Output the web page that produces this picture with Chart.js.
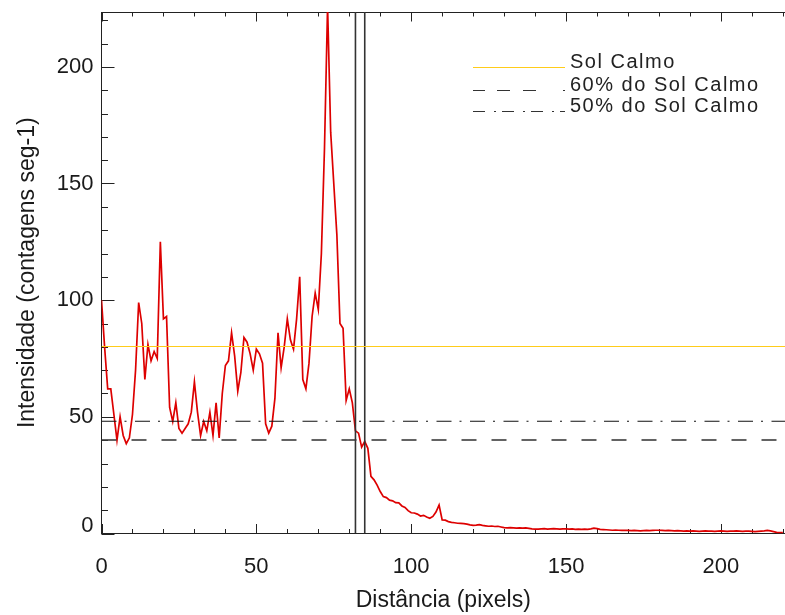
<!DOCTYPE html>
<html><head><meta charset="utf-8">
<script src="https://cdn.jsdelivr.net/npm/chart.js@4"></script>
<style>html,body{margin:0;padding:0;background:#fff;}canvas{display:block;}</style>
</head><body>
<canvas id="c" width="785" height="615"></canvas>
<script>
// ---- data ----
const intensidade = [
 100, 80, 62, 62, 51, 40, 50, 42, 38.5, 41,
 51, 70, 99, 90, 66, 81, 74, 78, 75, 125,
 92, 93, 54, 48, 56, 45, 43, 45, 47, 52,
 65, 52, 42, 48, 44, 52, 42, 56, 41, 60,
 72, 74, 86, 76, 61, 69, 84, 82, 77, 70,
 79, 77, 73, 47, 43, 46, 58, 86, 71, 80,
 92, 83, 79, 92, 110, 66, 62, 73, 93, 103,
 96, 120, 165, 226, 172, 150, 128, 90, 88, 57,
 62, 56, 44, 43, 37, 39.5, 36.5, 24.5, 23, 20.7,
 18, 15.8, 15.4, 14.3, 14, 13.2, 13.1, 11.8, 11.2, 9.8,
 8.9, 8.8, 8.3, 7.5, 7.8, 7.1, 6.5, 7.3, 9.2, 12.2,
 5.8, 5.7, 5.1, 4.8, 4.6, 4.4, 4.3, 4.2, 4.0, 3.7,
 3.5, 3.6, 3.8, 3.5, 3.3, 3.1, 3.2, 3.0, 3.1, 2.8,
 2.5, 2.4, 2.5, 2.4, 2.3, 2.4, 2.3, 2.4, 2.2, 2.0,
 1.9, 1.9, 2.0, 2.1, 1.9, 2.0, 2.1, 2.0, 1.9, 2.0,
 2.0, 1.9, 2.0, 1.8, 1.9, 1.8, 1.9, 1.8, 2.0, 2.3,
 2.1, 1.8, 1.7, 1.6, 1.5, 1.4, 1.5, 1.4, 1.3, 1.4,
 1.3, 1.2, 1.3, 1.2, 1.1, 1.2, 1.3, 1.2, 1.3, 1.4,
 1.4, 1.3, 1.2, 1.3, 1.2, 1.1, 1.2, 1.1, 1.0, 1.1,
 1.0, 1.1, 1.0, 0.9, 1.0, 1.1, 1.0, 1.0, 0.9, 1.0,
 1.1, 1.0, 0.9, 1.0, 1.0, 1.1, 1.0, 0.9, 1.0, 1.0,
 0.9, 0.8, 0.9, 1.0, 1.1, 1.3, 1.1, 0.8, 0.5, 0.4,
 0.4
];
const solCalmo = 80.15;
const fracoes = [0.6, 0.5];
const linhasVerticais = [82, 85];
const xTickValues = [0, 50, 100, 150, 200];
const yTickValues = [0, 50, 100, 150, 200];
const xMax = 220.7;
const yMax = 223.5;
const legendLabels = ['Sol Calmo', '60% do Sol Calmo', '50% do Sol Calmo'];
const xTitle = 'Distância (pixels)';
const yTitle = 'Intensidade (contagens seg-1)';

// ---- styling ----
const FONT = "'Liberation Sans', Arial, Helvetica, sans-serif";
const TXT = '#1a1a1a';
const YELLOW = '#ffcc1a';

const pontos = intensidade.map((v, i) => ({x: i, y: v}));
const hLine = v => [{x: 0, y: v}, {x: xMax, y: v}];
const vLine = v => [{x: v, y: 0}, {x: v, y: yMax}];

const idlAxes = {
  id: 'idlAxes',
  beforeDatasetsDraw(chart) {
    const {ctx, chartArea: a, scales: {x, y}} = chart;
    ctx.save();
    ctx.strokeStyle = '#222';
    ctx.lineWidth = 1;
    ctx.beginPath();
    ctx.moveTo(a.left, Math.round(a.top) + 0.5); ctx.lineTo(a.right, Math.round(a.top) + 0.5);
    for (let v = 0; v <= xMax; v += 10) {
      const px = Math.round(x.getPixelForValue(v)) + 0.5;
      const len = v % 50 === 0 ? 9.5 : 4.5;
      ctx.moveTo(px, a.bottom); ctx.lineTo(px, a.bottom - len);
      ctx.moveTo(px, a.top); ctx.lineTo(px, a.top + len);
    }
    for (let v = 0; v <= yMax; v += 10) {
      const py = Math.round(y.getPixelForValue(v)) + 0.5;
      const len = v % 50 === 0 ? 13 : 6.5;
      ctx.moveTo(a.left, py); ctx.lineTo(a.left + len, py);
    }
    ctx.stroke();
    ctx.restore();
  }
};

const idlLegend = {
  id: 'idlLegend',
  afterDraw(chart) {
    const ctx = chart.ctx;
    const rows = [
      {y: 67.5, color: YELLOW, dash: [], w: 1},
      {y: 90.5, color: '#333', dash: [12, 12, 13, 13, 13, 27, 2, 100], w: 1},
      {y: 111.5, color: '#333', dash: [12, 9, 2, 6], w: 1}
    ];
    ctx.save();
    rows.forEach((r, i) => {
      ctx.beginPath();
      ctx.strokeStyle = r.color;
      ctx.lineWidth = r.w;
      ctx.setLineDash(r.dash);
      ctx.moveTo(473, r.y); ctx.lineTo(565, r.y);
      ctx.stroke();
      ctx.setLineDash([]);
      ctx.fillStyle = '#222';
      ctx.font = '20px ' + FONT;
      try { ctx.letterSpacing = '1.5px'; } catch (e) {}
      ctx.textBaseline = 'alphabetic';
      ctx.textAlign = 'left';
      ctx.fillText(legendLabels[i], 570, r.y);
    });
    ctx.restore();
  }
};

new Chart(document.getElementById('c'), {
  type: 'line',
  data: {
    datasets: [
      {label: 'Intensidade', data: pontos, borderColor: '#dd0000', borderWidth: 1.7, order: 2},
      {label: legendLabels[0], data: hLine(solCalmo), borderColor: YELLOW, borderWidth: 1.2, order: 1},
      {label: legendLabels[1], data: hLine(fracoes[0] * solCalmo), borderColor: '#111', borderDash: [15, 8, 2, 8.5], borderWidth: 1.1, order: 1},
      {label: legendLabels[2], data: hLine(fracoes[1] * solCalmo), borderColor: 'rgba(60,60,60,0.8)', borderDash: [15, 15], borderWidth: 2, order: 1},
      {label: 'x1', data: vLine(linhasVerticais[0]), borderColor: '#333', borderWidth: 1.6, order: 1},
      {label: 'x2', data: vLine(linhasVerticais[1]), borderColor: '#333', borderWidth: 1.6, order: 1}
    ]
  },
  options: {
    responsive: false,
    animation: false,
    devicePixelRatio: 1,
    layout: {padding: {top: 12, right: 0, left: 0, bottom: 0}},
    elements: {point: {radius: 0}, line: {tension: 0}},
    plugins: {legend: {display: false}, tooltip: {enabled: false}},
    scales: {
      x: {
        type: 'linear', position: 'bottom', min: 0, max: xMax,
        grid: {display: false, drawTicks: false},
        border: {display: true, color: '#222', width: 1},
        afterBuildTicks: s => { s.ticks = xTickValues.map(v => ({value: v})); },
        ticks: {font: {family: FONT, size: 22}, color: TXT, padding: 20, maxRotation: 0, autoSkip: false, includeBounds: false},
        title: {display: true, text: xTitle, color: TXT, font: {family: FONT, size: 23}, padding: {top: 0, bottom: 1}},
        afterFit: s => { s.height = 81.5; s.paddingLeft = 0; s.paddingRight = 0; }
      },
      y: {
        type: 'linear', position: 'left', min: 0, max: yMax,
        grid: {display: false, drawTicks: false},
        border: {display: true, color: '#222', width: 1},
        afterBuildTicks: s => { s.ticks = yTickValues.map(v => ({value: v})); },
        ticks: {
          color: TXT, padding: 8, autoSkip: false, includeBounds: false,
          font: c => (c.tick && c.tick.value === 0) ? {family: FONT, size: 22, lineHeight: 0.73} : {family: FONT, size: 22},
          callback: v => v === 0 ? ['0', ''] : String(v)
        },
        title: {display: true, text: yTitle, color: TXT, font: {family: FONT, size: 23}, padding: {top: 14, bottom: 0}},
        afterFit: s => { s.width = 101.5; s.paddingTop = 0; s.paddingBottom = 0; }
      }
    }
  },
  plugins: [idlAxes, idlLegend]
});
</script>
</body></html>
